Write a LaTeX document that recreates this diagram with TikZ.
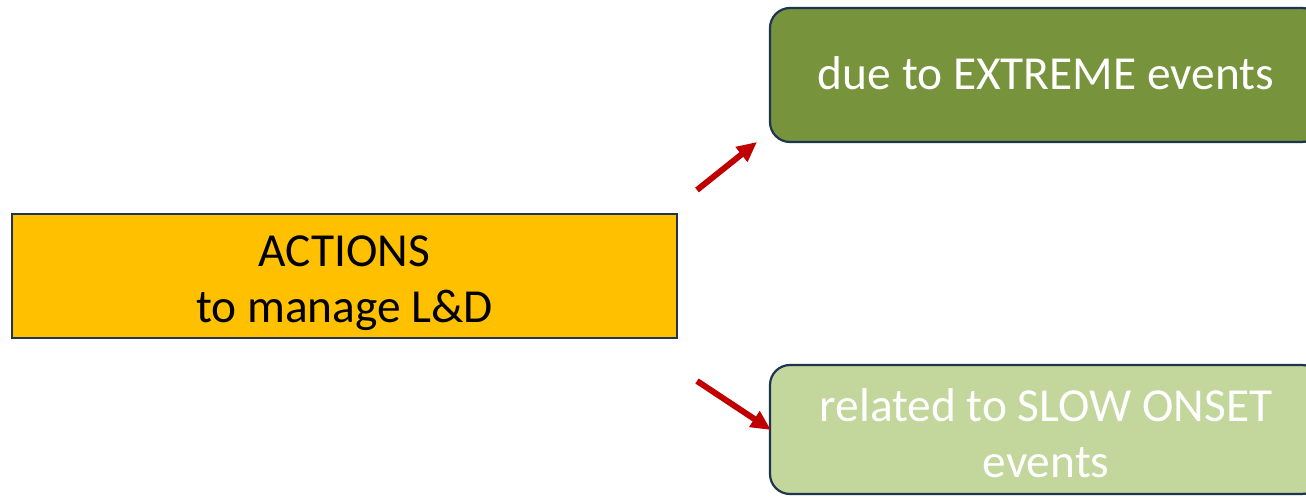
\documentclass[tikz,border=0pt]{standalone}
\usepackage{fontspec}
\setmainfont{Carlito}
\usetikzlibrary{arrows.meta}
\definecolor{boxorange}{HTML}{FFC000}
\definecolor{boxgreen}{HTML}{77933C}
\definecolor{boxlight}{HTML}{C3D69B}
\definecolor{boxedge}{HTML}{1F3450}
\definecolor{arrowred}{HTML}{C00000}
\newcommand{\toppad}[2]{\raisebox{0pt}[\dimexpr\height+#1\relax]{#2}}
\newcommand{\botpad}[2]{\raisebox{0pt}[\height][\dimexpr\depth+#1\relax]{#2}}
\tikzset{
  base/.style={draw=boxedge, line width=1.1pt, align=center, inner sep=0pt,
    font=\fontsize{23.7pt}{28pt}\selectfont},
  actionbox/.style={base, fill=boxorange, text=black, minimum width=332.5pt, minimum height=62pt},
  extremebox/.style={base, fill=boxgreen, text=white, rounded corners=10pt, minimum width=276pt, minimum height=67pt},
  slowbox/.style={base, fill=boxlight, text=white, rounded corners=10pt, minimum width=276pt, minimum height=64.5pt},
  redarrow/.style={draw=arrowred, line width=3pt, -{Triangle[length=10pt,width=9pt]}}
}
\begin{document}
\begin{tikzpicture}[x=0.5pt,y=-0.5pt]
\useasboundingbox (0,0) rectangle (1306,497);
\clip (0,0) rectangle (1306,497);
\node[actionbox] (act) at (344.5,276) {\toppad{7.5pt}{ACTIONS}\\to manage L\&D};
\node[extremebox] (ext) at (1046,75) {\botpad{2pt}{due to EXTREME events}};
\node[slowbox] (slow) at (1046,429.5) {\toppad{3.5pt}{related to SLOW ONSET}\\events};
\coordinate (a1s) at (697,190);
\coordinate (a1e) at (757,142);
\coordinate (a2s) at (697,381);
\coordinate (a2e) at (771,430);
\draw[redarrow] (a1s) -- (a1e);
\draw[redarrow] (a2s) -- (a2e);
\end{tikzpicture}
\end{document}
